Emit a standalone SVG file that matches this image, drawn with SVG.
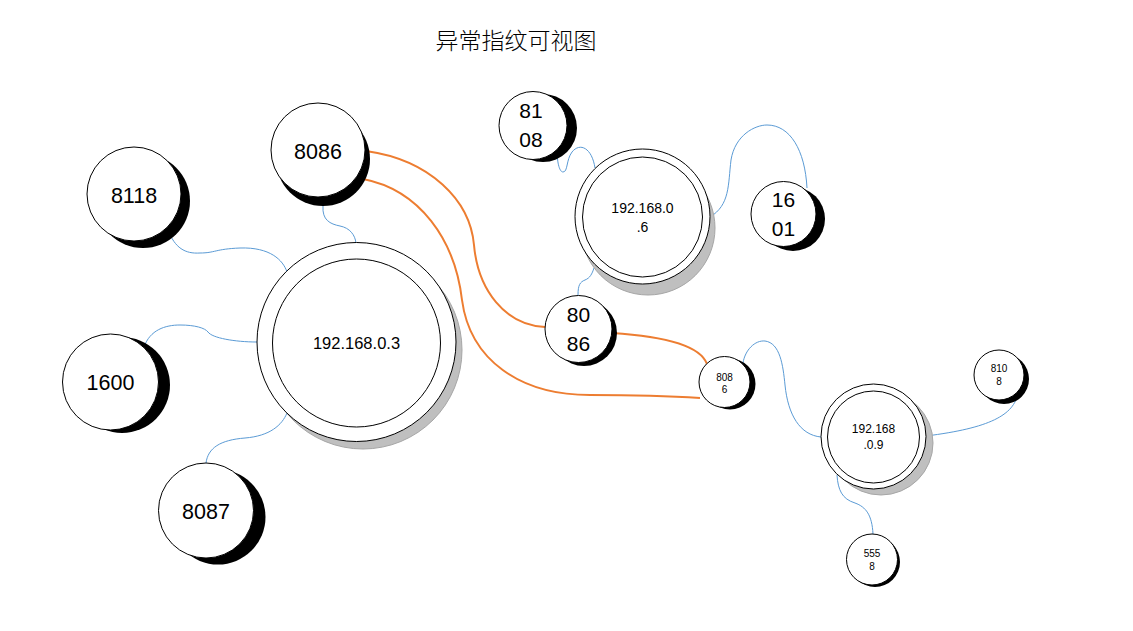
<svg xmlns="http://www.w3.org/2000/svg" width="1133" height="631" viewBox="0 0 1133 631">
<style>
.bg{fill:#ffffff}
.face{fill:#ffffff;stroke:#000000;stroke-width:1}
.sh{fill:#000000}
.gsh{fill:#bfbfbf;stroke:#a6a6a6;stroke-width:1}
.blue{fill:none;stroke:#5b9bd5;stroke-width:1}
.orange{fill:none;stroke:#ed7d31;stroke-width:2}
text{font-family:"Liberation Sans","Noto Sans",sans-serif;fill:#000000;text-anchor:middle}
.t21{font-size:21.5px}
.t20{font-size:21px}
.t16{font-size:16.5px}
.t14{font-size:14px}
.t12{font-size:12px}
.t10{font-size:10px}
.title{font-family:"Noto Sans CJK SC","Noto Sans",sans-serif;font-size:23px;font-weight:300}
</style>
<rect class="bg" x="0" y="0" width="1133" height="631"/>
<text class="title" x="516" y="49">异常指纹可视图</text>

<g id="connectors">
<path class="blue" d="M168,230 C175,248 185,254 200,253 C215,253 215,249 240,248 C270,247 283,260 287,272"/>
<path class="blue" d="M323,206 C322,220 330,224 340,226 C350,228 355,235 356,243"/>
<path class="blue" d="M144,347 C150,330 165,325 180,325 C195,325 205,328 208,332 C212,338 235,342 257,342"/>
<path class="blue" d="M206,463 C208,448 220,440 245,438 C270,436 282,425 287,413"/>
<path class="blue" d="M557,148 C557,165 560,172 563,172 C568,172 566,160 572,152 C580,142 592,148 595,168"/>
<path class="blue" d="M710,217 C730,205 728,185 731,160 C735,135 755,125 767,125 C790,125 805,150 807,188"/>
<path class="blue" d="M578,295 C578,285 580,282 585,280 C590,278 592,274 594,268"/>
<path class="blue" d="M743,363 C745,350 755,340 765,341 C780,343 783,365 785,385 C788,415 800,435 821,437"/>
<path class="blue" d="M1018,393 C1014,415 990,428 926,436"/>
<path class="blue" d="M873,534 C872,515 866,507 855,503 C842,499 838,490 837,475"/>
<path class="orange" d="M366,151 C430,160 470,200 474,245 C478,290 505,325 545,327"/>
<path class="orange" d="M363,179 C420,190 455,240 462,300 C470,360 520,395 590,395 C640,395 670,396 700,398"/>
<path class="orange" d="M612,333 C660,336 700,345 707,364"/>
</g>

<g id="n-192-168-0-3">
<circle class="gsh" cx="363" cy="350" r="99"/>
<circle class="face" cx="356.5" cy="342" r="99.5"/>
<circle class="face" cx="356.5" cy="343" r="84"/>
<text class="t16" x="356.5" y="349">192.168.0.3</text>
</g>

<g id="n-192-168-0-6">
<circle class="gsh" cx="648" cy="228" r="67"/>
<circle class="face" cx="642.5" cy="216.5" r="67.5"/>
<circle class="face" cx="642.5" cy="217" r="60"/>
<text class="t14" x="642.5" y="213">192.168.0</text>
<text class="t14" x="642.5" y="232">.6</text>
</g>

<g id="n-192-168-0-9">
<circle class="gsh" cx="881" cy="443" r="52"/>
<circle class="face" cx="873.5" cy="436.5" r="52.5"/>
<circle class="face" cx="873.5" cy="437" r="46"/>
<text class="t12" x="873.5" y="433">192.168</text>
<text class="t12" x="873.5" y="449">.0.9</text>
</g>

<g id="n-8086-top">
<circle class="sh" cx="323" cy="159" r="47"/>
<circle class="face" cx="318" cy="150" r="47"/>
<text class="t21" x="318" y="159">8086</text>
</g>

<g id="n-8118">
<circle class="sh" cx="143" cy="201" r="47"/>
<circle class="face" cx="134" cy="194" r="47"/>
<text class="t21" x="134" y="203">8118</text>
</g>

<g id="n-1600">
<circle class="sh" cx="122" cy="385" r="48"/>
<circle class="face" cx="110.5" cy="382" r="48"/>
<text class="t21" x="110.5" y="390">1600</text>
</g>

<g id="n-8087">
<circle class="sh" cx="218" cy="517" r="47.5"/>
<circle class="face" cx="206" cy="510.5" r="47.5"/>
<text class="t21" x="206" y="519">8087</text>
</g>

<g id="n-8108-top">
<circle class="sh" cx="543" cy="128" r="34"/>
<circle class="face" cx="533" cy="125.5" r="34"/>
<text class="t20" x="531" y="118">81</text>
<text class="t20" x="531" y="147">08</text>
</g>

<g id="n-1601">
<circle class="sh" cx="793" cy="219" r="32"/>
<circle class="face" cx="783.5" cy="214" r="32.5"/>
<text class="t20" x="783.5" y="207">16</text>
<text class="t20" x="783.5" y="236">01</text>
</g>

<g id="n-8086-mid">
<circle class="sh" cx="584" cy="333" r="33"/>
<circle class="face" cx="578.5" cy="329" r="33.5"/>
<text class="t20" x="578.5" y="322">80</text>
<text class="t20" x="578.5" y="351">86</text>
</g>

<g id="n-8086-small">
<circle class="sh" cx="730" cy="384" r="25.5"/>
<circle class="face" cx="724.5" cy="382" r="25.5"/>
<text class="t10" x="724.5" y="381">808</text>
<text class="t10" x="724.5" y="393">6</text>
</g>

<g id="n-8108-right">
<circle class="sh" cx="1004" cy="379" r="25"/>
<circle class="face" cx="999" cy="375" r="25"/>
<text class="t10" x="999" y="372">810</text>
<text class="t10" x="999" y="385">8</text>
</g>

<g id="n-5558">
<circle class="sh" cx="875" cy="562" r="25"/>
<circle class="face" cx="872" cy="559.5" r="25.5"/>
<text class="t10" x="872" y="557">555</text>
<text class="t10" x="872" y="570">8</text>
</g>
</svg>
